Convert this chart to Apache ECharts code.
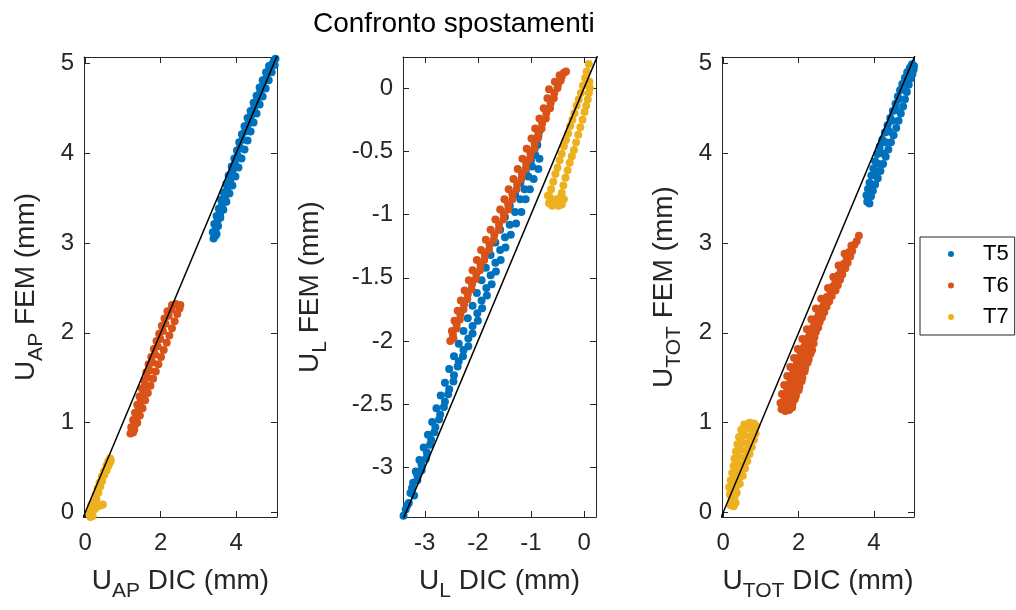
<!DOCTYPE html>
<html><head><meta charset="utf-8">
<script src="https://cdn.jsdelivr.net/npm/echarts@6/dist/echarts.min.js"></script>
<style>html,body{margin:0;padding:0;background:#fff}#c{width:1016px;height:610px}</style>
</head><body><div id="c"></div>
<script>
const seriesNames = ['T5', 'T6', 'T7'];
const seriesColors = ['#0072BD', '#D95319', '#EDB120'];
const titleText = 'Confronto spostamenti';
const subLabels = ['AP', 'L', 'TOT'];

// Panel 1: U_AP
const p1T5 = [[3.40,3.05],[3.45,3.08],[3.38,3.12],[3.46,3.16],[3.42,3.21],[3.50,3.24],[3.48,3.30],[3.57,3.32],[3.54,3.38],[3.62,3.42],[3.60,3.48],[3.70,3.50],[3.67,3.56],[3.76,3.60],[3.74,3.66],[3.84,3.70],[3.80,3.75],[3.90,3.79],[3.88,3.85],[3.97,3.88],[3.95,3.94],[4.04,3.97],[4.02,4.03],[4.10,4.06],[4.08,4.12],[4.17,4.15],[4.15,4.21],[4.24,4.24],[4.22,4.30],[4.31,4.32],[4.30,4.39],[4.39,4.41],[4.38,4.47],[4.47,4.50],[4.46,4.56],[4.55,4.58],[4.54,4.64],[4.63,4.67],[4.62,4.73],[4.71,4.75],[4.70,4.81],[4.80,4.84],[4.79,4.90],[4.88,4.92],[4.87,4.97],[4.95,4.99],[5.00,5.03],[5.04,5.05],
  [3.48,3.10],[3.52,3.19],[3.58,3.28],[3.66,3.37],[3.74,3.46],[3.82,3.55],[3.90,3.64],[3.98,3.74],[4.06,3.84],[4.14,3.94],[4.22,4.04],[4.30,4.14],[4.38,4.24],[4.46,4.34],[4.54,4.44],[4.62,4.54],[4.70,4.63],[4.78,4.72],[4.86,4.81],[4.94,4.90],[5.02,4.98]];
const p1T6 = [[1.20,0.88],[1.27,0.89],[1.22,0.95],[1.31,0.97],[1.27,1.03],[1.36,1.05],[1.32,1.11],[1.41,1.14],[1.38,1.20],[1.47,1.23],[1.44,1.29],[1.53,1.32],[1.50,1.38],[1.59,1.41],[1.56,1.47],[1.65,1.50],[1.62,1.56],[1.71,1.58],[1.68,1.65],[1.78,1.67],[1.75,1.73],[1.85,1.76],[1.82,1.82],[1.92,1.85],[1.89,1.91],[1.99,1.93],[1.96,1.99],[2.06,2.02],[2.03,2.08],[2.13,2.10],[2.10,2.16],[2.21,2.19],[2.18,2.24],[2.29,2.26],[2.30,2.31],[2.40,2.32],[2.52,2.31],
  [1.30,0.92],[1.38,1.00],[1.45,1.08],[1.52,1.16],[1.59,1.25],[1.66,1.33],[1.73,1.41],[1.80,1.49],[1.87,1.57],[1.94,1.65],[2.01,1.73],[2.08,1.81],[2.16,1.89],[2.23,1.97],[2.30,2.05],[2.37,2.13],[2.44,2.21],[2.50,2.27]];
const p1T7 = [[0.14,-0.05],[0.20,-0.04],[0.10,0.00],[0.18,0.02],[0.26,0.04],[0.34,0.07],[0.42,0.08],[0.47,0.09],[0.16,0.08],[0.24,0.12],[0.30,0.15],[0.28,0.20],[0.35,0.22],[0.33,0.27],[0.40,0.29],[0.38,0.33],[0.45,0.35],[0.44,0.40],[0.51,0.42],[0.50,0.46],[0.57,0.47],[0.56,0.52],[0.62,0.52],[0.61,0.57],[0.66,0.56],[0.66,0.60],[0.68,0.58]];

// Panel 2: U_L
const p2T5 = [[-3.40,-3.38],[-3.36,-3.33],[-3.30,-3.28],[-3.27,-3.20],[-3.20,-3.22],[-3.22,-3.12],[-3.14,-3.10],[-3.17,-3.03],[-3.06,-3.02],[-3.10,-2.94],[-2.98,-2.93],[-3.02,-2.84],[-2.90,-2.82],[-2.94,-2.74],[-2.82,-2.72],[-2.86,-2.64],[-2.73,-2.62],[-2.78,-2.53],[-2.64,-2.52],[-2.70,-2.43],[-2.56,-2.42],[-2.62,-2.33],[-2.46,-2.32],[-2.54,-2.22],[-2.38,-2.20],[-2.45,-2.12],[-2.28,-2.12],[-2.36,-2.02],[-2.18,-2.04],[-2.27,-1.92],[-2.10,-1.94],[-2.19,-1.82],[-2.00,-1.84],[-2.10,-1.72],[-1.92,-1.74],[-2.02,-1.62],[-1.83,-1.64],[-1.93,-1.52],[-1.74,-1.55],[-1.85,-1.42],[-1.66,-1.45],[-1.76,-1.32],[-1.57,-1.36],[-1.67,-1.22],[-1.48,-1.26],[-1.58,-1.12],[-1.38,-1.16],[-1.49,-1.02],[-1.28,-1.07],[-1.40,-0.93],[-1.18,-0.98],[-1.30,-0.84],[-1.10,-0.88],[-1.20,-0.75],[-1.02,-0.80],[-1.10,-0.66],[-0.95,-0.72],[-1.00,-0.57],[-0.86,-0.64],[-0.93,-0.48],[-0.84,-0.56],[-0.88,-0.40],[-0.84,-0.34],
  [-3.33,-3.30],[-3.24,-3.16],[-3.14,-3.06],[-3.06,-2.98],[-2.96,-2.88],[-2.88,-2.78],[-2.80,-2.68],[-2.71,-2.58],[-2.62,-2.48],[-2.54,-2.38],[-2.45,-2.27],[-2.36,-2.16],[-2.27,-2.07],[-2.18,-1.98],[-2.10,-1.88],[-2.01,-1.78],[-1.93,-1.68],[-1.84,-1.58],[-1.76,-1.48],[-1.67,-1.38],[-1.58,-1.28],[-1.49,-1.18],[-1.40,-1.08],[-1.30,-0.98],[-1.20,-0.88],[-1.12,-0.80],[-1.05,-0.70],[-0.98,-0.62],[-0.92,-0.53],[-0.88,-0.45],[-0.86,-0.38]];
const p2T6 = [[-2.52,-2.00],[-2.46,-1.98],[-2.49,-1.92],[-2.40,-1.90],[-2.44,-1.84],[-2.34,-1.83],[-2.38,-1.76],[-2.27,-1.75],[-2.32,-1.68],[-2.20,-1.67],[-2.25,-1.60],[-2.12,-1.59],[-2.17,-1.52],[-2.04,-1.51],[-2.10,-1.44],[-1.96,-1.44],[-2.02,-1.36],[-1.88,-1.36],[-1.94,-1.28],[-1.79,-1.28],[-1.85,-1.20],[-1.70,-1.20],[-1.76,-1.12],[-1.61,-1.12],[-1.67,-1.04],[-1.52,-1.04],[-1.58,-0.96],[-1.43,-0.96],[-1.50,-0.88],[-1.35,-0.88],[-1.42,-0.80],[-1.27,-0.80],[-1.33,-0.72],[-1.18,-0.72],[-1.25,-0.64],[-1.10,-0.64],[-1.16,-0.56],[-1.02,-0.56],[-1.08,-0.48],[-0.94,-0.48],[-0.99,-0.40],[-0.87,-0.40],[-0.92,-0.32],[-0.80,-0.32],[-0.84,-0.24],[-0.72,-0.24],[-0.76,-0.16],[-0.64,-0.16],[-0.69,-0.08],[-0.57,-0.08],[-0.66,-0.01],[-0.50,0.00],[-0.55,0.05],[-0.44,0.06],[-0.46,0.10],[-0.38,0.12],[-0.34,0.13],
  [-2.47,-1.95],[-2.40,-1.87],[-2.33,-1.79],[-2.26,-1.71],[-2.19,-1.63],[-2.11,-1.55],[-2.03,-1.47],[-1.95,-1.40],[-1.87,-1.32],[-1.78,-1.24],[-1.69,-1.16],[-1.60,-1.08],[-1.51,-1.00],[-1.43,-0.92],[-1.35,-0.84],[-1.26,-0.76],[-1.17,-0.68],[-1.09,-0.60],[-1.01,-0.52],[-0.93,-0.44],[-0.86,-0.36],[-0.79,-0.28],[-0.71,-0.20],[-0.63,-0.12],[-0.56,-0.04],[-0.49,0.03],[-0.42,0.09]];
const p2T7 = [[0.13,0.25],[0.09,0.19],[0.05,0.13],[0.02,0.08],[-0.02,0.02],[-0.06,-0.04],[-0.10,-0.09],[-0.14,-0.14],[-0.18,-0.20],[-0.22,-0.25],[-0.26,-0.30],[-0.30,-0.36],[-0.34,-0.41],[-0.38,-0.46],[-0.42,-0.52],[-0.46,-0.57],[-0.50,-0.63],[-0.54,-0.68],[-0.58,-0.74],[-0.62,-0.80],[-0.65,-0.86],[-0.60,-0.90],[0.10,0.05],[0.11,0.00],[0.09,-0.04],[0.07,-0.09],[0.04,-0.14],[0.01,-0.19],[-0.03,-0.25],[-0.07,-0.31],[-0.11,-0.37],[-0.15,-0.43],[-0.19,-0.49],[-0.23,-0.54],[-0.27,-0.59],[-0.31,-0.65],[-0.35,-0.71],[-0.39,-0.77],[-0.42,-0.83],[-0.68,-0.85],[-0.66,-0.91],[-0.60,-0.93],[-0.54,-0.92],[-0.48,-0.93],[-0.42,-0.92],[-0.38,-0.88],[-0.52,-0.88],[-0.45,-0.87]];

// Panel 3: U_TOT
const p3T5 = [[3.82,3.46],[3.88,3.44],[3.80,3.53],[3.92,3.52],[3.84,3.60],[3.97,3.58],[3.88,3.67],[4.03,3.65],[3.93,3.75],[4.10,3.72],[3.98,3.83],[4.17,3.80],[4.03,3.91],[4.24,3.88],[4.09,3.99],[4.31,3.96],[4.15,4.07],[4.38,4.04],[4.22,4.15],[4.45,4.12],[4.29,4.23],[4.52,4.20],[4.36,4.31],[4.59,4.28],[4.43,4.39],[4.65,4.36],[4.50,4.47],[4.71,4.44],[4.57,4.55],[4.77,4.52],[4.63,4.63],[4.82,4.60],[4.69,4.70],[4.87,4.68],[4.75,4.77],[4.92,4.76],[4.82,4.84],[4.97,4.83],[4.88,4.90],[5.02,4.88],[4.95,4.95],[5.05,4.93],[5.01,4.99],[5.06,4.97],[3.86,3.50],[3.95,3.62],[4.04,3.76],[4.13,3.88],[4.22,4.00],[4.31,4.12],[4.40,4.24],[4.49,4.36],[4.58,4.48],[4.66,4.60],[4.74,4.72],[4.83,4.82],[4.92,4.91]];
const p3T6 = [[1.55,1.15],[1.65,1.13],[1.75,1.14],[1.83,1.17],[1.52,1.22],[1.62,1.25],[1.78,1.24],[1.90,1.26],[1.56,1.32],[1.70,1.34],[1.86,1.33],[2.00,1.36],[1.62,1.42],[1.78,1.44],[1.94,1.43],[2.08,1.46],[1.70,1.52],[1.86,1.54],[2.02,1.53],[2.16,1.57],[1.78,1.62],[1.94,1.64],[2.10,1.63],[2.24,1.67],[1.88,1.72],[2.04,1.74],[2.20,1.73],[2.32,1.77],[1.98,1.82],[2.14,1.84],[2.30,1.83],[2.40,1.88],[2.10,1.93],[2.26,1.95],[2.42,1.95],[2.22,2.04],[2.38,2.06],[2.52,2.06],[2.34,2.15],[2.50,2.17],[2.62,2.17],[2.46,2.27],[2.62,2.28],[2.74,2.29],[2.60,2.38],[2.75,2.40],[2.88,2.41],[2.78,2.50],[2.92,2.52],[3.04,2.53],[2.92,2.62],[3.05,2.64],[3.16,2.65],[3.06,2.75],[3.20,2.77],[3.30,2.78],[3.22,2.88],[3.34,2.90],[3.42,2.91],[3.40,2.97],[3.48,2.98],[3.54,3.02],[3.60,3.08],
  [1.60,1.19],[1.70,1.20],[1.84,1.21],[1.64,1.29],[1.78,1.30],[1.93,1.30],[1.70,1.38],[1.86,1.39],[2.02,1.40],[1.78,1.48],[1.94,1.49],[2.10,1.50],[1.86,1.58],[2.02,1.59],[2.18,1.61],[1.96,1.68],[2.12,1.69],[2.27,1.71],[2.06,1.78],[2.22,1.79],[2.36,1.81],[2.18,1.89],[2.34,1.90],[2.30,2.00],[2.46,2.01],[2.42,2.11],[2.56,2.12],[2.54,2.22],[2.68,2.23],[2.68,2.33],[2.81,2.35],[2.85,2.46],[2.98,2.47],[2.98,2.57],[3.10,2.59],[3.12,2.70],[3.24,2.72],[3.28,2.83],[3.37,2.85]];
const p3T7 = [[0.20,0.08],[0.28,0.07],[0.33,0.11],[0.22,0.14],[0.30,0.17],[0.18,0.20],[0.26,0.23],[0.36,0.22],[0.16,0.28],[0.24,0.30],[0.34,0.29],[0.44,0.32],[0.20,0.36],[0.30,0.38],[0.40,0.37],[0.52,0.41],[0.24,0.44],[0.34,0.46],[0.46,0.45],[0.58,0.49],[0.28,0.52],[0.38,0.54],[0.50,0.53],[0.64,0.57],[0.30,0.60],[0.42,0.62],[0.56,0.61],[0.70,0.65],[0.34,0.68],[0.46,0.70],[0.60,0.69],[0.76,0.73],[0.38,0.76],[0.50,0.78],[0.64,0.77],[0.82,0.81],[0.42,0.84],[0.56,0.86],[0.70,0.85],[0.86,0.88],[0.48,0.92],[0.62,0.94],[0.76,0.93],[0.88,0.96],[0.56,0.98],[0.70,1.00],[0.82,0.99]];

// identity reference lines (y = x)
const refLineP1 = [[-0.2,-0.2],[5.2,5.2]];
const refLineP2 = [[-3.5,-3.5],[0.3,0.3]];
const refLineP3 = [[-0.2,-0.2],[5.2,5.2]];

// axis ranges and ticks
const rangeP1X = [-0.03, 5.08], rangeP1Y = [-0.05, 5.07];
const rangeP2X = [-3.41, 0.225], rangeP2Y = [-3.39, 0.245];
const rangeP3X = [-0.03, 5.06], rangeP3Y = [-0.05, 5.07];
const ticksP1X = [0, 2, 4], ticksP1Y = [0, 1, 2, 3, 4, 5];
const ticksP2X = [-3, -2, -1, 0], ticksP2Y = [-3, -2.5, -2, -1.5, -1, -0.5, 0];
const ticksP3X = [0, 2, 4], ticksP3Y = [0, 1, 2, 3, 4, 5];

const FONT = 'Liberation Sans, Arial, Helvetica, sans-serif';
const AX = '#262626';

const panels = [
  {grid: {left: 84, top: 57, width: 193, height: 460}, xr: rangeP1X, yr: rangeP1Y, xt: ticksP1X, yt: ticksP1Y, sub: subLabels[0], yGap: 37, data: [p1T5, p1T6, p1T7], ref: refLineP1},
  {grid: {left: 403, top: 57, width: 193, height: 460}, xr: rangeP2X, yr: rangeP2Y, xt: ticksP2X, yt: ticksP2Y, sub: subLabels[1], yGap: 72, data: [p2T5, p2T6, p2T7], ref: refLineP2},
  {grid: {left: 722, top: 57, width: 192, height: 460}, xr: rangeP3X, yr: rangeP3Y, xt: ticksP3X, yt: ticksP3Y, sub: subLabels[2], yGap: 37, data: [p3T5, p3T6, p3T7], ref: refLineP3}
];

const nameStyle = {
  fontFamily: FONT, color: AX,
  rich: {
    m: {fontSize: 28, verticalAlign: 'top', fontFamily: FONT, color: AX},
    s: {fontSize: 21, verticalAlign: 'top', padding: [14, 0, 0, 0], fontFamily: FONT, color: AX}
  }
};
const lineSty = {color: AX, width: 1};
const labelSty = {fontSize: 24, color: AX, fontFamily: FONT};

const grids = [], xAxes = [], yAxes = [], series = [];
panels.forEach((p, i) => {
  grids.push(Object.assign({containLabel: false}, p.grid));
  xAxes.push({
    type: 'value', gridIndex: i, position: 'bottom', min: p.xr[0], max: p.xr[1],
    name: '{m|U}{s|' + p.sub + '}{m| DIC (mm)}', nameLocation: 'middle', nameGap: 50, nameTextStyle: nameStyle,
    axisLine: {onZero: false, lineStyle: lineSty},
    axisTick: {inside: true, length: 6, customValues: p.xt, lineStyle: lineSty},
    axisLabel: Object.assign({customValues: p.xt, margin: 14}, labelSty),
    splitLine: {show: false}
  });
  xAxes.push({
    type: 'value', gridIndex: i, position: 'top', min: p.xr[0], max: p.xr[1],
    axisLine: {onZero: false, lineStyle: lineSty},
    axisTick: {inside: true, length: 6, customValues: p.xt, lineStyle: lineSty},
    axisLabel: {show: false}, splitLine: {show: false}
  });
  yAxes.push({
    type: 'value', gridIndex: i, position: 'left', min: p.yr[0], max: p.yr[1],
    name: '{m|U}{s|' + p.sub + '}{m| FEM (mm)}', nameLocation: 'middle', nameGap: p.yGap, nameTextStyle: nameStyle,
    axisLine: {onZero: false, lineStyle: lineSty},
    axisTick: {inside: true, length: 6, customValues: p.yt, lineStyle: lineSty},
    axisLabel: Object.assign({customValues: p.yt, margin: 10}, labelSty),
    splitLine: {show: false}
  });
  yAxes.push({
    type: 'value', gridIndex: i, position: 'right', min: p.yr[0], max: p.yr[1],
    axisLine: {onZero: false, lineStyle: lineSty},
    axisTick: {inside: true, length: 6, customValues: p.yt, lineStyle: lineSty},
    axisLabel: {show: false}, splitLine: {show: false}
  });
  p.data.forEach((d, k) => {
    series.push({
      type: 'scatter', name: seriesNames[k], xAxisIndex: 2 * i, yAxisIndex: 2 * i,
      data: d, symbol: 'circle', symbolSize: 8,
      itemStyle: {color: seriesColors[k], opacity: 1}, z: 2
    });
  });
  series.push({
    type: 'line', name: 'ref' + i, xAxisIndex: 2 * i, yAxisIndex: 2 * i,
    data: p.ref, showSymbol: false, symbol: 'none', clip: true,
    lineStyle: {color: '#000', width: 1.5}, z: 5, silent: true
  });
});

const chart = echarts.init(document.getElementById('c'), null, {renderer: 'canvas'});
chart.setOption({
  animation: false,
  backgroundColor: '#fff',
  color: seriesColors,
  title: {
    text: titleText, left: 308, top: 5,
    textStyle: {fontSize: 28, fontWeight: 'normal', color: '#000', fontFamily: FONT}
  },
  legend: {
    data: seriesNames, orient: 'vertical', left: 920, top: 237,
    padding: [6, 6, 7, 28], itemGap: 9.5, itemWidth: 6, itemHeight: 6, icon: 'circle',
    borderColor: AX, borderWidth: 1, borderRadius: 0, backgroundColor: '#fff',
    textStyle: {fontSize: 22, lineHeight: 22, color: '#000', fontFamily: FONT, padding: [0, 0, 0, 24]}
  },
  grid: grids, xAxis: xAxes, yAxis: yAxes, series: series
});
</script></body></html>
